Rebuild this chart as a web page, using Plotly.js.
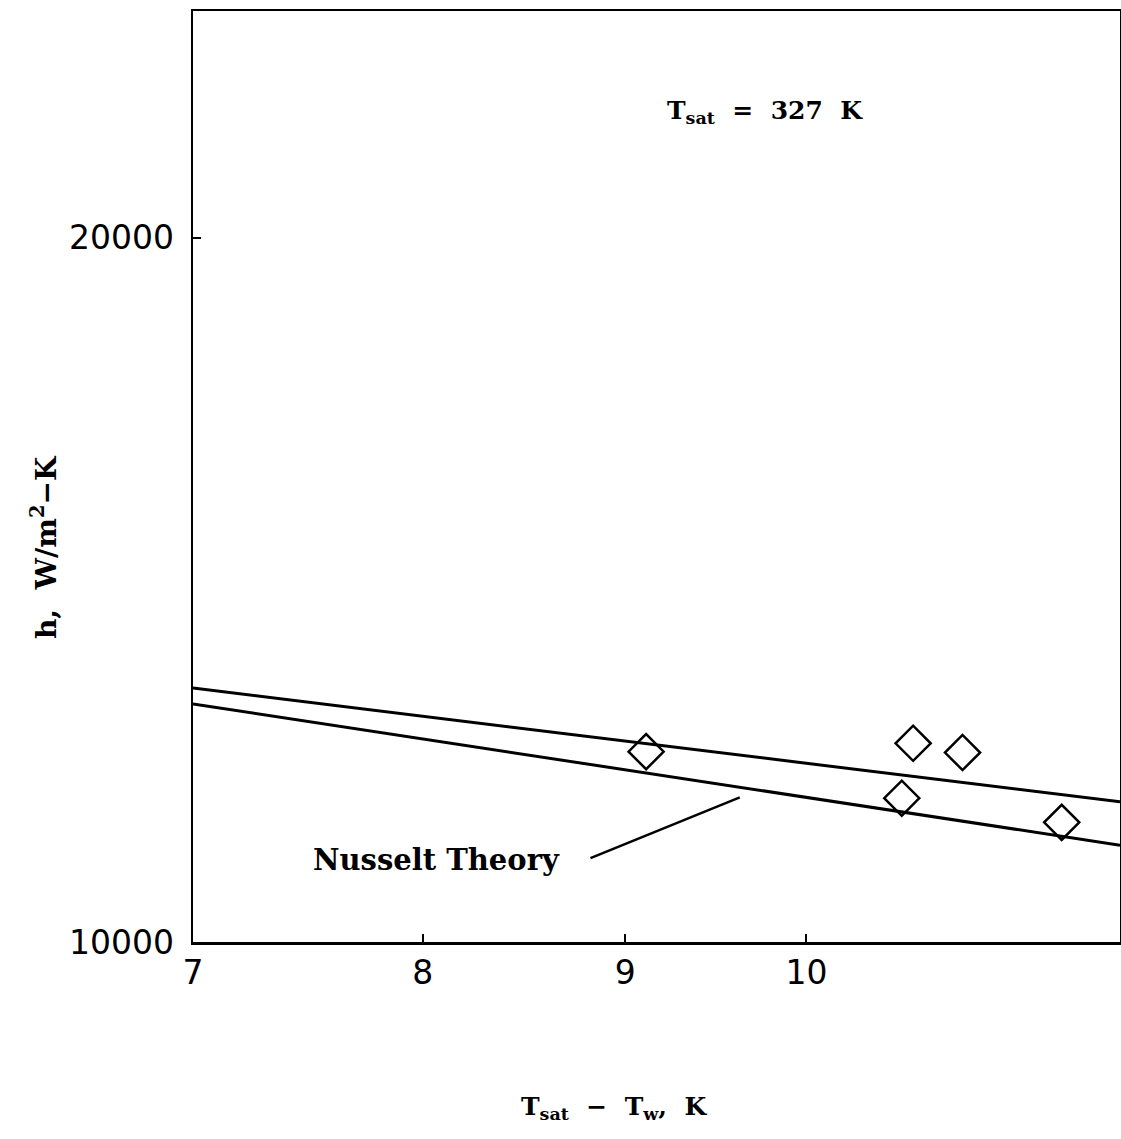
<!DOCTYPE html>
<html>
<head>
<meta charset="utf-8">
<script src="https://cdn.plot.ly/plotly-3.0.1.min.js"></script>
<style>
  html, body { margin: 0; padding: 0; background: #fff; }
  #chart { width: 1121px; height: 1139px; }
</style>
</head>
<body>
<div id="chart"></div>
<script>
// Data (log–log axes)
const dataDeltaT = [9.11, 10.64, 10.95, 10.57, 11.60];
const dataH      = [12060, 12160, 12050, 11520, 11250];

const upperLineDeltaT = [7, 12];
const upperLineH      = [12840, 11480];

const nusseltDeltaT = [7, 12];
const nusseltH      = [12640, 11000];

const pointerDeltaT = [8.82, 9.62];
const pointerH      = [10860, 11530];

const xTickVals = [7, 8, 9, 10];
const xTickText = ['7', '8', '9', '10'];
const yTickVals = [10000, 20000];
const yTickText = ['10000', '20000'];

const serif = 'DejaVu Serif, Liberation Serif, serif';
const sans = 'DejaVu Sans, Liberation Sans, sans-serif';
const sp = '\u00a0';

const traces = [
  { x: upperLineDeltaT, y: upperLineH, mode: 'lines', type: 'scatter',
    line: { color: '#000', width: 3 }, hoverinfo: 'skip', showlegend: false },
  { x: nusseltDeltaT, y: nusseltH, mode: 'lines', type: 'scatter',
    line: { color: '#000', width: 3 }, hoverinfo: 'skip', showlegend: false },
  { x: pointerDeltaT, y: pointerH, mode: 'lines', type: 'scatter',
    line: { color: '#000', width: 2.5 }, hoverinfo: 'skip', showlegend: false },
  { x: dataDeltaT, y: dataH, mode: 'markers', type: 'scatter',
    marker: { symbol: 'diamond-open', size: 27, color: '#000', line: { color: '#000', width: 2.5 } },
    showlegend: false }
];

const layout = {
  width: 1121, height: 1139,
  margin: { l: 193, r: 1, t: 11, b: 197 },
  paper_bgcolor: '#fff', plot_bgcolor: '#fff',
  showlegend: false,
  xaxis: {
    type: 'log', range: [Math.log10(7), Math.log10(12.0)],
    tickvals: xTickVals, ticktext: xTickText,
    showgrid: false, zeroline: false,
    showline: true, mirror: true, linecolor: '#000', linewidth: 2.5,
    ticks: 'inside', ticklen: 8, tickwidth: 2, tickcolor: '#000',
    tickfont: { family: sans, size: 33, color: '#000' },
    ticklabelstandoff: 0
  },
  yaxis: {
    type: 'log', range: [4, Math.log10(25000)],
    tickvals: yTickVals, ticktext: yTickText,
    showgrid: false, zeroline: false,
    showline: true, mirror: true, linecolor: '#000', linewidth: 2.5,
    ticks: 'inside', ticklen: 8, tickwidth: 2, tickcolor: '#000',
    tickfont: { family: sans, size: 33, color: '#000' },
    ticklabelstandoff: 10
  },
  annotations: [
    { text: 'T<sub>sat</sub>' + sp + sp + '=' + sp + sp + '327' + sp + sp + 'K', xref: 'paper', yref: 'paper',
      x: (765 - 193) / 927, y: (942 - 112) / 931, xanchor: 'center', yanchor: 'middle',
      showarrow: false, font: { family: serif, size: 25, color: '#000', weight: 'bold' } },
    { text: 'Nusselt Theory', xref: 'paper', yref: 'paper',
      x: (436 - 193) / 927, y: (942 - 860) / 931, xanchor: 'center', yanchor: 'middle',
      showarrow: false, font: { family: serif, size: 29, color: '#000', weight: 'bold' } },
    { text: 'T<sub>sat</sub>' + sp + sp + '−' + sp + sp + 'T<sub>w</sub>,' + sp + sp + 'K', xref: 'paper', yref: 'paper',
      x: (614 - 193) / 927, y: (942 - 1108) / 931, xanchor: 'center', yanchor: 'middle',
      showarrow: false, font: { family: serif, size: 25, color: '#000', weight: 'bold' } },
    { text: 'h,' + sp + sp + 'W/m<sup>2</sup>−K', xref: 'paper', yref: 'paper', textangle: -90,
      x: (44 - 193) / 927, y: (942 - 547) / 931, xanchor: 'center', yanchor: 'middle',
      showarrow: false, font: { family: serif, size: 28, color: '#000', weight: 'bold' } }
  ]
};

Plotly.newPlot('chart', traces, layout, { staticPlot: true, displayModeBar: false });
</script>
</body>
</html>
